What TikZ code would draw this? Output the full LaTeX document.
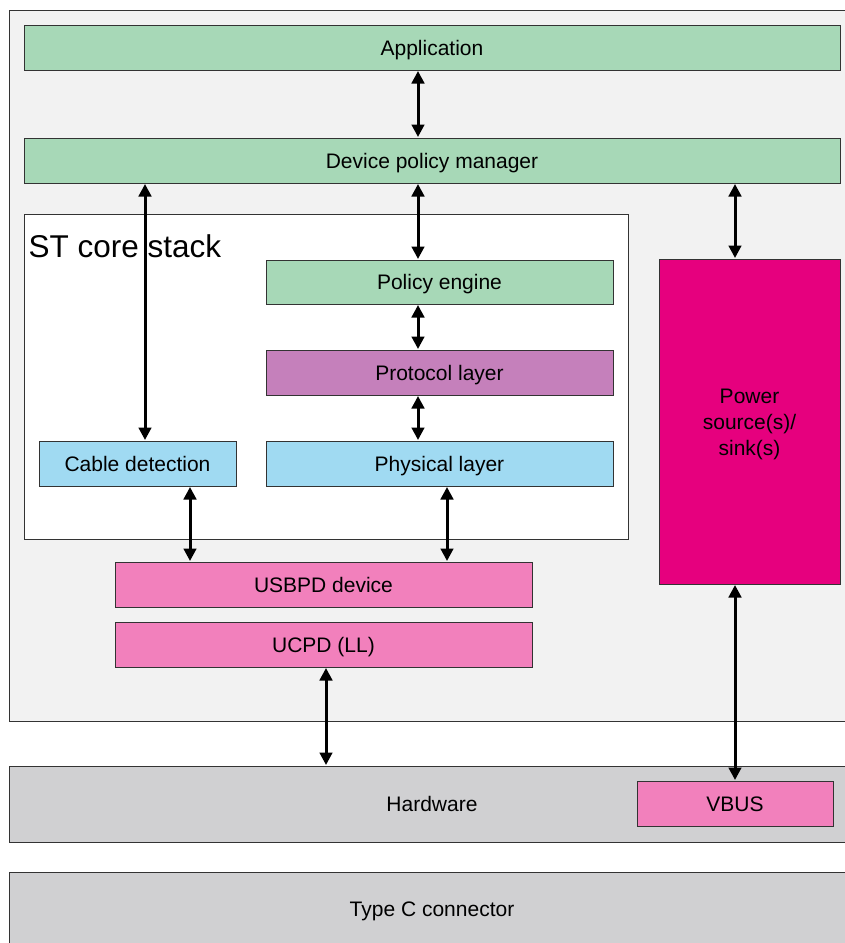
\documentclass[tikz,border=0pt]{standalone}
\usepackage{fontspec}
\setmainfont{Liberation Sans}
\usepackage{tikz}
\usetikzlibrary{positioning, arrows.meta}

\definecolor{bggray}{RGB}{242,242,242}
\definecolor{hwgray}{RGB}{208,208,210}
\definecolor{stgreen}{RGB}{167,216,183}
\definecolor{stpurple}{RGB}{197,128,187}
\definecolor{stblue}{RGB}{160,218,242}
\definecolor{stmagenta}{RGB}{230,0,126}
\definecolor{stpink}{RGB}{242,128,188}
\definecolor{edgegray}{RGB}{51,51,51}

\begin{document}
\begin{tikzpicture}[x=1pt, y=-1pt, node distance=90.5pt, on grid,
    blk/.style={draw=edgegray, line width=1pt, inner sep=0pt, align=center,
        text height=15pt, text depth=0pt, font=\fontsize{21}{26}\selectfont},
    biarrow/.style={{Triangle[length=12.5pt,width=12.5pt]}-{Triangle[length=12.5pt,width=12.5pt]},
        line width=3pt, shorten <=0.5pt, shorten >=0.5pt}]
    \useasboundingbox (0,0) rectangle (845,943);

    % Define frames
    \node[blk, fill=bggray, minimum width=846pt, minimum height=711pt] (board) at (432,365.5) {};
    \node[blk, fill=white, minimum width=604pt, minimum height=325pt] (core) at (326,376.5) {};
    \node[anchor=base west, inner sep=0pt, font=\fontsize{31.5}{36}\selectfont] (coretitle)
        at ([xshift=5pt, yshift=-44pt]core.north west) {ST core stack};

    % Define blocks
    \node[blk, fill=stgreen, minimum width=816pt, minimum height=45pt] (app) at (432,47.5) {Application};
    \node[blk, fill=stgreen, minimum width=816pt, minimum height=45pt] (dpm) at (432,160.5) {Device policy manager};
    \node[blk, fill=stgreen, minimum width=347pt, minimum height=44pt] (pe) at (439.5,282) {Policy engine};
    \node[blk, fill=stpurple, minimum width=347pt, minimum height=45pt] (proto) [below=of pe] {Protocol layer};
    \node[blk, fill=stblue, minimum width=347pt, minimum height=45pt] (phys) [below=91pt of proto] {Physical layer};
    \node[blk, fill=stblue, minimum width=197pt, minimum height=45pt] (cbl) at (137.5,463.5) {Cable detection};
    \node[blk, fill=stmagenta, minimum width=181pt, minimum height=325pt,
        label={[align=center, yshift=-2.5pt, font=\fontsize{21}{26}\selectfont]center:Power\\source(s)/\\sink(s)}]
        (pwr) at (749.5,421.5) {};
    \node[blk, fill=stpink, minimum width=417pt, minimum height=45pt] (usbpd) at (323.5,584.5) {USBPD device};
    \node[blk, fill=stpink, minimum width=417pt, minimum height=45pt] (ucpd) [below=60pt of usbpd] {UCPD (LL)};
    \node[blk, fill=hwgray, minimum width=846pt, minimum height=76pt] (hw) at (432,804) {Hardware};
    \node[blk, fill=stpink, minimum width=196pt, minimum height=45pt] (vbus) at (735,803.5) {VBUS};
    \node[blk, fill=hwgray, minimum width=846pt, minimum height=74pt] (typec) at (432,909) {Type C connector};

    % Define links
    \coordinate (stackcol) at (418,0);
    \draw[biarrow] (app.south -| stackcol) -- (dpm.north -| stackcol);
    \draw[biarrow] (dpm.south -| stackcol) -- (pe.north -| stackcol);
    \draw[biarrow] (pe.south -| stackcol) -- (proto.north -| stackcol);
    \draw[biarrow] (proto.south -| stackcol) -- (phys.north -| stackcol);
    \draw[biarrow] (dpm.south -| 145,0) -- (cbl.north -| 145,0);
    \draw[biarrow] (dpm.south -| vbus.north) -- (pwr.north -| vbus.north);
    \draw[biarrow] ([xshift=52.5pt]cbl.south) -- ([xshift=52.5pt]cbl.south |- usbpd.north);
    \draw[biarrow] ([xshift=7.5pt]phys.south) -- ([xshift=7.5pt]phys.south |- usbpd.north);
    \draw[biarrow] ([xshift=2.5pt]ucpd.south) -- ([xshift=2.5pt]ucpd.south |- hw.north);
    \draw[biarrow] (pwr.south -| vbus.north) -- (vbus.north);
\end{tikzpicture}
\end{document}
